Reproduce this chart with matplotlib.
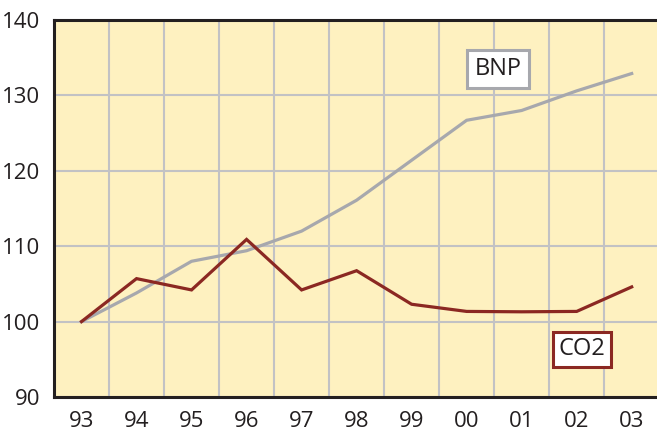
import matplotlib
matplotlib.use("Agg")
import matplotlib.pyplot as plt

plt.rcParams['font.family'] = ['Open Sans', 'DejaVu Sans']

# Index values, 1993 = 100
years = ["93", "94", "95", "96", "97", "98", "99", "00", "01", "02", "03"]
bnp = [100, 103.8, 108.0, 109.4, 112.0, 116.1, 121.4, 126.7, 128.0, 130.6, 132.9]
co2 = [100, 105.7, 104.2, 110.9, 104.2, 106.75, 102.3, 101.35, 101.3, 101.35, 104.6]

bg = "#FEF1C0"
grid_col = "#C2C2C4"
gray = "#A7A8AD"
red = "#8B2822"
dark = "#231F20"

fig = plt.figure(figsize=(6.57, 4.32), dpi=100)
ax = fig.add_axes([54 / 657, 35 / 432, 1 - 54 / 657, 377 / 432])
ax.set_facecolor(bg)

x = list(range(len(years)))
ax.plot(x, bnp, color=gray, lw=2.3, solid_joinstyle="miter", zorder=3)
ax.plot(x, co2, color=red, lw=2.3, solid_joinstyle="miter", zorder=4)

ax.set_xlim(-0.5, 10.46)
ax.set_ylim(90, 140)
ax.set_yticks(range(90, 141, 10))
ax.set_xticks(x)
ax.set_xticklabels(years)
ax.set_xticks([i + 0.5 for i in range(10)], minor=True)

ax.grid(True, which="minor", axis="x", color=grid_col, lw=1.5)
ax.grid(True, which="major", axis="y", color=grid_col, lw=1.5)
ax.set_axisbelow(True)

ax.tick_params(which="both", length=0)
ax.tick_params(axis="y", pad=10, labelsize=16, labelcolor=dark)
ax.tick_params(axis="x", pad=10, labelsize=16, labelcolor=dark)

for side in ["left", "bottom", "top"]:
    ax.spines[side].set_color(dark)
    ax.spines[side].set_linewidth(2.2)
ax.spines["right"].set_visible(False)

ax.text(7.57, 133.5, "BNP", fontsize=17, color=dark, ha="center", va="center",
        bbox=dict(boxstyle="square,pad=0.3", fc="white", ec=gray, lw=2.2), zorder=5)
ax.text(9.1, 96.3, "CO2", fontsize=17, color=dark, ha="center", va="center",
        bbox=dict(boxstyle="square,pad=0.25", fc="white", ec=red, lw=2.2), zorder=5)

fig.savefig("out.png", dpi=100)
